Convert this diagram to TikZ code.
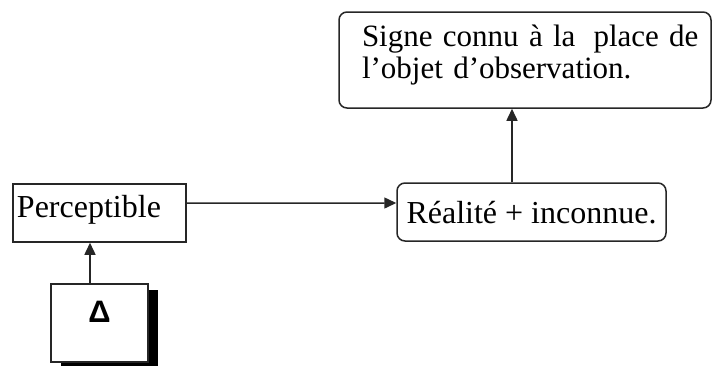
\documentclass[tikz,border=0pt]{standalone}
\usepackage{fontspec}
\setmainfont{Liberation Serif}
\newfontfamily\deltafont{Liberation Sans}
\usetikzlibrary{arrows.meta,shadows}
\begin{document}
\begin{tikzpicture}[x=1bp,y=-1bp,
  every node/.style={font=\fontsize{32bp}{32bp}\selectfont},
  frame/.style={draw=black!85, line width=1.5bp, fill=white, inner sep=0pt},
  rframe/.style={frame, rounded corners=8bp},
  link/.style={draw=black!85, line width=1.5bp, -{Triangle[length=12bp,width=11bp]}}]
\useasboundingbox (0,0) rectangle (712,365);

% boxes
\node[frame, minimum width=173bp, minimum height=58bp, text width=165bp, align=left,
      text height=22bp, text depth=14bp] (perc) at (99.5,213) {Perceptible};
\node[rframe, minimum width=269bp, minimum height=58bp,
      text height=26bp, text depth=4bp] (real) at (531.5,212) {Réalité + inconnue.};
\node[rframe, minimum width=372bp, minimum height=96bp, text width=326bp, align=left,
      font=\fontsize{31bp}{32.5bp}\selectfont,
      text height=22bp, text depth=50bp] (sign) at (525,60)
      {\mbox{Signe connu à la\hspace*{18bp}place de}\\l’objet d’observation.};
\node[frame, minimum width=97bp, minimum height=78bp,
      general shadow={fill=black, shadow xshift=9.5bp, shadow yshift=-6bp},
      font=\deltafont\bfseries\fontsize{31bp}{31bp}\selectfont,
      text height=21bp, text depth=23bp] (dbox) at (99.5,323) {Δ};

% connectors
\draw[link] ([yshift=10bp]perc.east) -- ([yshift=9bp]real.west);
\draw[link] ([xshift=-19.5bp]real.north) -- ([xshift=-19.5bp]real.north |- sign.south);
\draw[link] ([xshift=-9.5bp]dbox.north) -- ([xshift=-9.5bp]dbox.north |- perc.south);
\end{tikzpicture}
\end{document}
